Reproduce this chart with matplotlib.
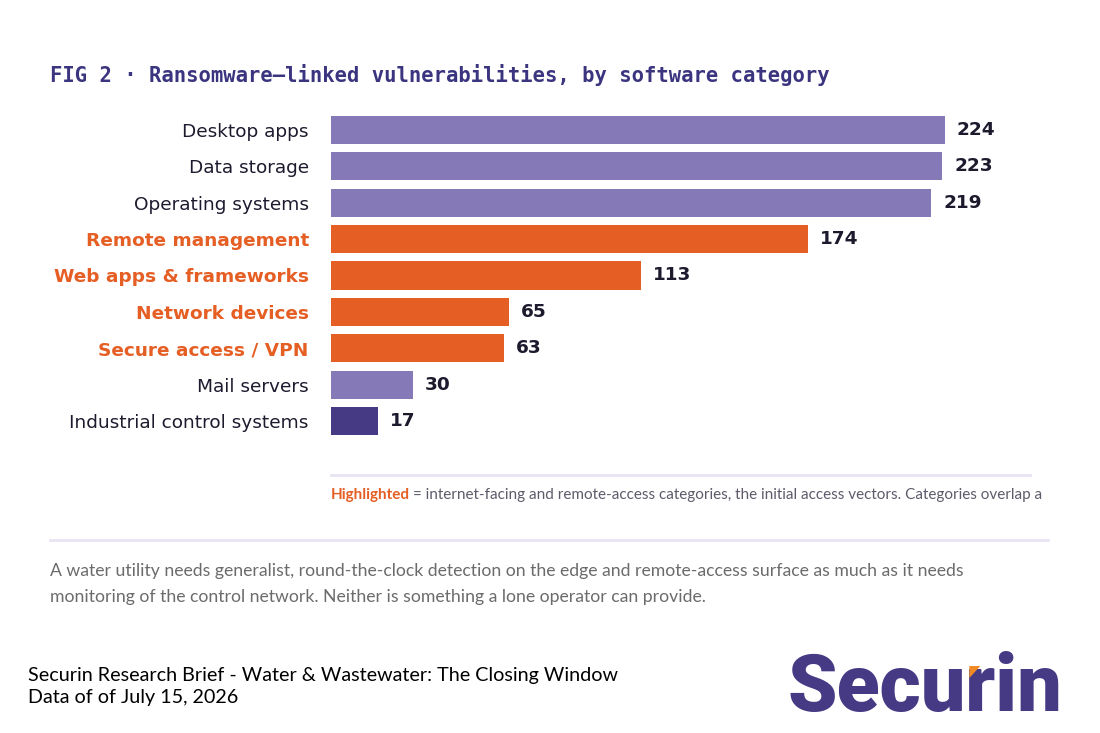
import matplotlib
matplotlib.use("Agg")
import matplotlib.pyplot as plt
from matplotlib.patches import Polygon

categories = ["Desktop apps", "Data storage", "Operating systems",
              "Remote management", "Web apps & frameworks", "Network devices",
              "Secure access / VPN", "Mail servers", "Industrial control systems"]
values = [224, 223, 219, 174, 113, 65, 63, 30, 17]
highlighted = [False, False, False, True, True, True, True, False, False]
ics_flag = [False, False, False, False, False, False, False, False, True]

PURPLE = "#8679b8"
ORANGE = "#e55e24"
DARK = "#463a85"
INK = "#1e1a2e"

dpi = 100
fig = plt.figure(figsize=(1100 / dpi, 733 / dpi), dpi=dpi)
fig.patch.set_facecolor("white")

ax = fig.add_axes([331 / 1100, 1 - 439.2 / 733, 699 / 1100, 327.4 / 733])

colors = []
for h, d in zip(highlighted, ics_flag):
    if h:
        colors.append(ORANGE)
    elif d:
        colors.append(DARK)
    else:
        colors.append(PURPLE)

ypos = list(range(len(categories)))
ax.barh(ypos, values, height=0.77, color=colors, edgecolor="none")
ax.set_xlim(0, 699 / 2.741)
ax.set_ylim(len(categories) - 0.5, -0.5)
ax.set_yticks(ypos)
ax.set_yticklabels(categories)
ax.set_xticks([])
ax.tick_params(axis="y", length=0, pad=16, labelsize=13.3)
for lab, h in zip(ax.get_yticklabels(), highlighted):
    if h:
        lab.set_color(ORANGE)
        lab.set_fontweight("bold")
    else:
        lab.set_color(INK)
for s in ax.spines.values():
    s.set_visible(False)

for y, v in zip(ypos, values):
    ax.annotate(str(v), (v, y), xytext=(12, 0), textcoords="offset pixels",
                va="center", ha="left", fontsize=13.3, fontweight="bold", color=INK)

# title
fig.text(50 / 1100, 1 - 75 / 733, "FIG 2 · Ransomware–linked vulnerabilities, by software category",
         family="DejaVu Sans Mono", fontweight="bold", fontsize=14.8, color="#3b3580",
         va="center", ha="left")

# separator + footnote (the source cuts the sentence off at the right edge)
fig.add_artist(plt.Line2D([331 / 1100, 1030 / 1100], [1 - 475 / 733] * 2,
                          color="#e9e3f2", lw=2))
t1 = fig.text(331 / 1100, 1 - 495 / 733, "Highlighted", family="Lato", fontweight="bold",
              fontsize=11, color=ORANGE, va="center", ha="left")
fig.canvas.draw()
bb = t1.get_window_extent()
fig.text(bb.x1 / 1100 + 3 / 1100, 1 - 495 / 733,
         "= internet-facing and remote-access categories, the initial access vectors. "
         "Categories overlap a",
         family="Lato", fontsize=11, color="#5f5a6a", va="center", ha="left")

fig.add_artist(plt.Line2D([50 / 1100, 1048 / 1100], [1 - 540 / 733] * 2,
                          color="#e9e3f2", lw=2))

fig.text(50 / 1100, 1 - 571 / 733,
         "A water utility needs generalist, round-the-clock detection on the edge and "
         "remote-access surface as much as it needs",
         family="Lato", fontsize=12.7, color="#6b6b6b", va="center", ha="left")
fig.text(50 / 1100, 1 - 597 / 733,
         "monitoring of the control network. Neither is something a lone operator can provide.",
         family="Lato", fontsize=12.7, color="#6b6b6b", va="center", ha="left")

# footer
fig.text(28 / 1100, 1 - 675 / 733,
         "Securin Research Brief - Water & Wastewater: The Closing Window",
         family="Lato", fontsize=14.2, color="black", va="center", ha="left")
fig.text(28 / 1100, 1 - 698 / 733, "Data of of July 15, 2026",
         family="Lato", fontsize=14.2, color="black", va="center", ha="left")

# logo
logo_x = 787 / 1100
logo_base = 1 - 711 / 733
logo_font = dict(family="Roboto", fontweight="black", fontsize=57)
fig.text(logo_x, logo_base, "Securin", color=DARK, va="baseline", ha="left", **logo_font)
probe = fig.text(logo_x, logo_base, "Secu", va="baseline", ha="left", alpha=0, **logo_font)
fig.canvas.draw()
rx = probe.get_window_extent().x1
probe.remove()
xh = 711 - 44  # top of the lowercase letters, px from top
px = [rx + 4, rx + 15, rx + 4]
py = [xh - 1, xh - 1, xh + 11]
fig.add_artist(Polygon([(x / 1100, 1 - y / 733) for x, y in zip(px, py)],
                       closed=True, transform=fig.transFigure, color="#f08a24",
                       lw=0, zorder=10))

fig.savefig("out.png", dpi=dpi)
